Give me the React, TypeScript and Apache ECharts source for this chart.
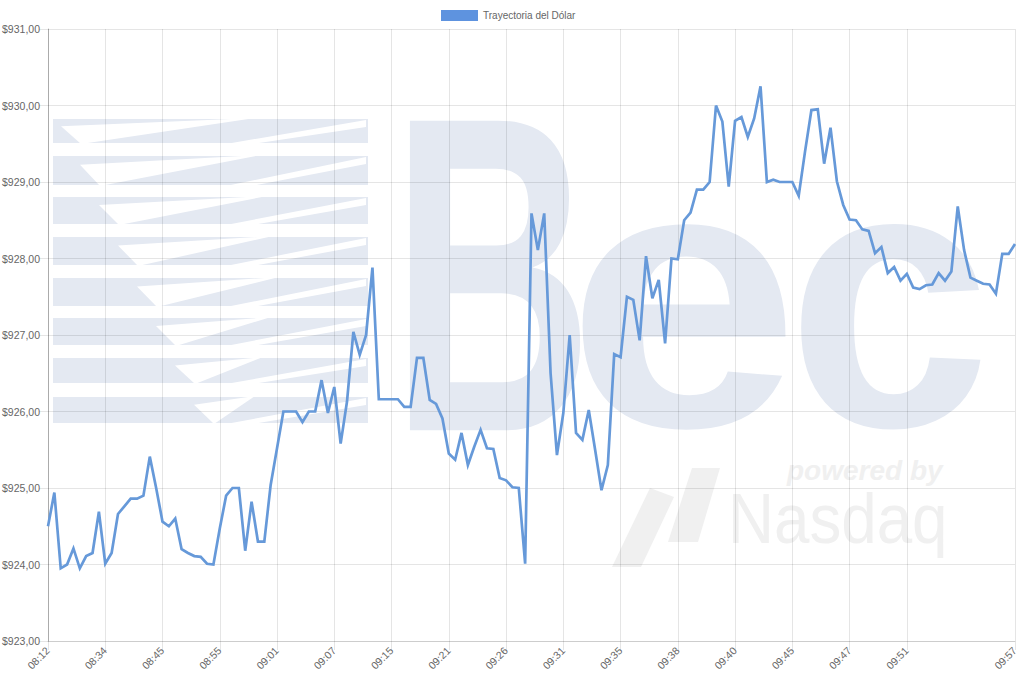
import React, { useEffect, useRef } from "react";
import * as echarts from "echarts";

const SERIES_NAME = "Trayectoria del Dólar";

const TIMES: string[] = [
  "08:12", "08:14", "08:17", "08:19", "08:22", "08:24", "08:27", "08:29", "08:32",
  "08:34", "08:35", "08:36", "08:37", "08:39", "08:40", "08:41", "08:42", "08:44",
  "08:45", "08:46", "08:47", "08:48", "08:49", "08:50", "08:51", "08:52", "08:54",
  "08:55", "08:55", "08:56", "08:57", "08:57", "08:58", "08:59", "08:59", "09:00",
  "09:01", "09:01", "09:02", "09:03", "09:03", "09:04", "09:05", "09:05", "09:06",
  "09:07", "09:08", "09:09", "09:10", "09:11", "09:12", "09:12", "09:13", "09:14",
  "09:15", "09:15", "09:16", "09:17", "09:17", "09:18", "09:19", "09:19", "09:20",
  "09:21", "09:21", "09:22", "09:23", "09:23", "09:24", "09:24", "09:25", "09:25",
  "09:26", "09:26", "09:27", "09:27", "09:28", "09:28", "09:29", "09:29", "09:30",
  "09:31", "09:31", "09:32", "09:32", "09:33", "09:33", "09:34", "09:34", "09:34",
  "09:35", "09:35", "09:36", "09:36", "09:36", "09:37", "09:37", "09:37", "09:38",
  "09:38", "09:38", "09:38", "09:39", "09:39", "09:39", "09:39", "09:40", "09:40",
  "09:40", "09:41", "09:41", "09:42", "09:42", "09:43", "09:43", "09:44", "09:44",
  "09:45", "09:45", "09:45", "09:46", "09:46", "09:46", "09:46", "09:47", "09:47",
  "09:47", "09:48", "09:48", "09:48", "09:49", "09:49", "09:50", "09:50", "09:50",
  "09:51", "09:51", "09:52", "09:52", "09:53", "09:53", "09:53", "09:54", "09:54",
  "09:55", "09:55", "09:55", "09:56", "09:56", "09:56", "09:57", "09:57", "09:57",
];

const VALUES: number[] = [
  924.50, 924.94, 923.95, 924.00, 924.21, 923.95, 924.11, 924.15, 924.69,
  924.01, 924.15, 924.66, 924.76, 924.86, 924.86, 924.90, 925.41, 925.00,
  924.56, 924.50, 924.60, 924.20, 924.15, 924.11, 924.10, 924.01, 924.00,
  924.47, 924.90, 925.00, 925.00, 924.18, 924.82, 924.30, 924.30, 925.04,
  925.52, 926.00, 926.00, 926.00, 925.86, 926.00, 926.00, 926.41, 925.98,
  926.32, 925.58, 926.13, 927.04, 926.74, 927.00, 927.88, 926.16, 926.16,
  926.16, 926.16, 926.06, 926.06, 926.70, 926.70, 926.15, 926.10, 925.91,
  925.45, 925.37, 925.72, 925.30, 925.54, 925.76, 925.52, 925.51, 925.13,
  925.10, 925.01, 925.00, 924.01, 928.59, 928.11, 928.59, 926.50, 925.43,
  925.98, 927.00, 925.72, 925.63, 926.02, 925.50, 924.97, 925.30, 926.75,
  926.71, 927.50, 927.46, 926.93, 928.03, 927.48, 927.72, 926.89, 928.00,
  927.99, 928.50, 928.60, 928.90, 928.90, 929.00, 930.00, 929.79, 928.94,
  929.80, 929.85, 929.59, 929.83, 930.25, 929.00, 929.03, 929.00, 929.00,
  929.00, 928.82, 929.40, 929.94, 929.95, 929.24, 929.71, 929.01, 928.70,
  928.51, 928.50, 928.38, 928.36, 928.07, 928.15, 927.81, 927.89, 927.71,
  927.80, 927.62, 927.60, 927.65, 927.66, 927.81, 927.71, 927.83, 928.68,
  928.11, 927.75, 927.71, 927.67, 927.66, 927.54, 928.06, 928.06, 928.19,
];

const Y_MIN = 923;
const Y_MAX = 931;
const Y_STEP = 1;
const LABEL_STEP = 9;

const FONT = '"Liberation Sans", Arial, Helvetica, sans-serif';
const WM = "#e4e9f2";
const WM2 = "#f0f0f0";

function showTick(i: number): boolean {
  const n = TIMES.length;
  if (i === n - 1) return true;
  return i % LABEL_STEP === 0 && i + LABEL_STEP < n;
}

function buildWatermark(): any[] {
  const els: any[] = [];
  const tops = [119, 156, 197, 237, 278, 318, 358, 397];
  const hs = [24, 29, 27, 28, 28, 27, 25, 26];
  tops.forEach((t, k) => {
    const h = hs[k];
    els.push({
      type: "rect", z: -20, silent: true,
      shape: { x: 53, y: t, width: 315, height: h },
      style: { fill: WM },
    });
    const a = 61 + k * 19;
    const c = 255 + (k < 5 ? k * 6 : (7 - k) * 8);
    els.push({
      type: "polygon", z: -19, silent: true,
      shape: { points: [[a, t + h * 0.3], [a + 20, t + h + 1], [c, t - 1]] },
      style: { fill: "#ffffff" },
    });
    els.push({
      type: "polygon", z: -19, silent: true,
      shape: { points: [[226, t + h + 1], [366, t + 1], [366, t + 8], [252, t + h + 1]] },
      style: { fill: "#ffffff" },
    });
  });
  els.push({
    type: "text", z: -18, silent: true, x: 492, y: 274, scaleX: 0.62,
    style: { text: "B", font: `bold 450px ${FONT}`, fill: WM, align: "center", verticalAlign: "middle" },
  });
  els.push({
    type: "text", z: -18, silent: true, x: 683, y: 296, scaleX: 1.12,
    style: { text: "e", font: `bold 375px ${FONT}`, fill: WM, align: "center", verticalAlign: "middle" },
  });
  els.push({
    type: "text", z: -18, silent: true, x: 889, y: 296, scaleX: 0.98,
    style: { text: "c", font: `bold 375px ${FONT}`, fill: WM, align: "center", verticalAlign: "middle" },
  });
  els.push({
    type: "text", z: -18, silent: true, x: 728, y: 518, scaleX: 0.91,
    style: { text: "Nasdaq", font: `70px ${FONT}`, fill: WM2, align: "left", verticalAlign: "middle" },
  });
  els.push({
    type: "text", z: -18, silent: true, x: 787, y: 470,
    style: { text: "powered by", font: `italic bold 28px ${FONT}`, fill: WM2, align: "left", verticalAlign: "middle" },
  });
  els.push({
    type: "polygon", z: -18, silent: true,
    shape: { points: [[612, 567], [641, 567], [674, 497], [650, 488]] },
    style: { fill: WM2 },
  });
  els.push({
    type: "polygon", z: -18, silent: true,
    shape: { points: [[668, 542], [698, 542], [720, 468], [692, 468]] },
    style: { fill: WM2 },
  });
  return els;
}

export default function App() {
  const ref = useRef<HTMLDivElement>(null);
  useEffect(() => {
    if (!ref.current) return;
    const chart = echarts.init(ref.current, null, { renderer: "svg" });
    const option: any = {
      animation: false,
      backgroundColor: "#ffffff",
      textStyle: { fontFamily: FONT },
      graphic: buildWatermark(),
      legend: {
        show: true,
        top: 10,
        left: 441,
        padding: 0,
        itemWidth: 37,
        itemHeight: 11,
        icon: "rect",
        data: [SERIES_NAME],
        textStyle: { color: "#666666", fontSize: 10, fontFamily: FONT },
      },
      grid: { left: 48, right: 9, top: 29, bottom: 43, containLabel: false, outerBoundsMode: "none" },
      xAxis: {
        type: "category",
        data: TIMES,
        boundaryGap: false,
        axisLine: { show: true, lineStyle: { color: "rgba(0,0,0,0.1)", width: 1 } },
        axisTick: { show: true, length: 9, interval: (i: number) => showTick(i), lineStyle: { color: "rgba(0,0,0,0.1)" } },
        axisLabel: {
          interval: (i: number) => showTick(i),
          rotate: 45,
          margin: 8,
          color: "#666666",
          fontSize: 10.5,
          fontFamily: FONT,
        },
        splitLine: { show: true, interval: (i: number) => showTick(i), lineStyle: { color: "rgba(0,0,0,0.1)", width: 1 } },
      },
      yAxis: {
        type: "value",
        min: Y_MIN,
        max: Y_MAX,
        interval: Y_STEP,
        axisLine: { show: true, lineStyle: { color: "rgba(0,0,0,0.25)", width: 1 } },
        axisTick: { show: true, length: 9, lineStyle: { color: "rgba(0,0,0,0.1)" } },
        axisLabel: {
          margin: 8,
          color: "#666666",
          fontSize: 10.5,
          fontFamily: FONT,
          formatter: (v: number) => "$" + v.toFixed(2).replace(".", ","),
        },
        splitLine: { show: true, lineStyle: { color: "rgba(0,0,0,0.1)", width: 1 } },
      },
      series: [
        {
          name: SERIES_NAME,
          type: "line",
          data: VALUES,
          showSymbol: false,
          smooth: false,
          itemStyle: { color: "#5e93df" },
          lineStyle: { color: "#6699d9", width: 2.7, join: "miter", miterLimit: 10 },
          z: 3,
        },
      ],
    };
    chart.setOption(option);
    return () => chart.dispose();
  }, []);
  return (
    <div
      ref={ref}
      style={{ position: "fixed", left: 0, top: 0, width: 1024, height: 684, background: "#ffffff" }}
    />
  );
}
